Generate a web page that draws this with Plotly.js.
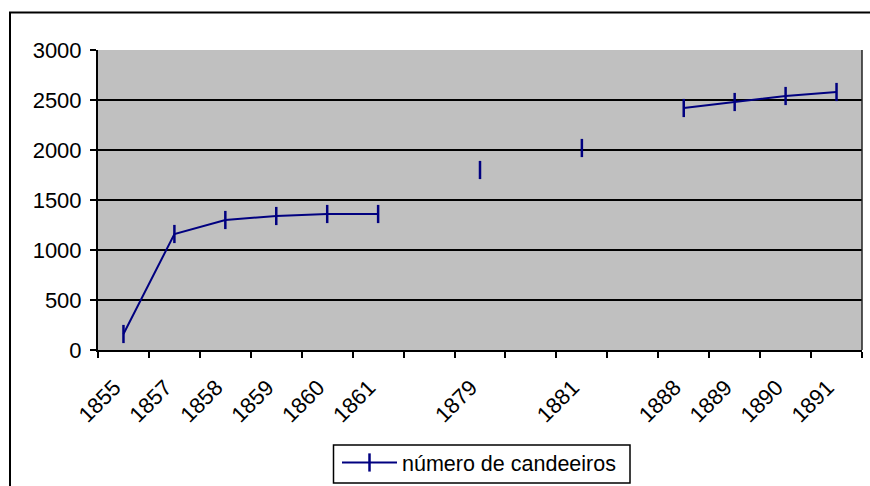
<!DOCTYPE html>
<html>
<head>
<meta charset="utf-8">
<script src="https://cdn.plot.ly/plotly-3.0.1.min.js"></script>
<style>
html,body{margin:0;padding:0;background:#fff;}
#chart{width:870px;height:486px;}
</style>
</head>
<body>
<div id="chart"></div>
<script>
// Categories (blank entries are empty categories in the original sheet)
const categories = ['1855','1857','1858','1859','1860','1861','','1879','','1881','','1888','1889','1890','1891'];
// número de candeeiros (null = no value)
const candeeiros = [160,1160,1300,1340,1360,1360,null,1800,null,2020,null,2420,2480,2540,2580];
const seriesName = 'número de candeeiros';
const yTicks = [0,500,1000,1500,2000,2500,3000];

const idx = categories.map((_, i) => i);
const boundaries = categories.map((_, i) => i - 0.5).concat([categories.length - 0.5]);

const FONT = 'Liberation Sans, Arial, sans-serif';
const NAVY = '#000080';
const FS = 22;

const trace = {
  type: 'scatter',
  mode: 'lines+markers',
  x: idx,
  y: candeeiros,
  name: seriesName,
  connectgaps: false,
  line: {color: NAVY, width: 2},
  marker: {symbol: 'line-ns', size: 13, color: NAVY, line: {color: NAVY, width: 2.5}},
  showlegend: true,
  cliponaxis: false
};

const W = 870, H = 486;
const L = 98, R = 8, T = 50, B = 136;
const pw = W - L - R, ph = H - T - B;
const px = v => (v - L) / pw;
const py = v => (H - B - v) / ph;

const layout = {
  width: W, height: H,
  margin: {l: L, r: R, t: T, b: B, pad: 0, autoexpand: false},
  paper_bgcolor: '#ffffff',
  plot_bgcolor: '#c0c0c0',
  font: {family: FONT, size: FS, color: '#000'},
  showlegend: true,
  xaxis: {
    type: 'linear',
    range: [-0.5, categories.length - 0.5],
    tickmode: 'array',
    tickvals: idx,
    ticktext: categories,
    ticks: '',
    tickangle: -45,
    showgrid: false,
    zeroline: false,
    showline: true,
    linecolor: '#000',
    linewidth: 2,
    automargin: false,
    ticklabelstandoff: 14,
    ticklabelshift: -9,
    tickfont: {family: FONT, size: FS, color: '#000'},
    minor: {tickmode: 'array', tickvals: boundaries, ticks: 'outside', ticklen: 6, tickcolor: '#000', tickwidth: 2, showgrid: false}
  },
  yaxis: {
    range: [0, 3000],
    tickmode: 'array',
    tickvals: yTicks,
    ticktext: yTicks.map(String),
    ticks: 'outside',
    ticklen: 6,
    tickwidth: 2,
    tickcolor: '#000',
    showgrid: true,
    gridcolor: '#000',
    gridwidth: 1.5,
    zeroline: false,
    showline: true,
    linecolor: '#000',
    linewidth: 2,
    automargin: false,
    ticklabelstandoff: 4,
    tickfont: {family: FONT, size: FS, color: '#000'}
  },
  legend: {
    orientation: 'h',
    x: px(337), xanchor: 'left',
    y: py(442), yanchor: 'top',
    bgcolor: 'rgba(0,0,0,0)',
    borderwidth: 0,
    font: {family: FONT, size: 21.5, color: '#000'},
    itemwidth: 55,
    tracegroupgap: 0
  },
  shapes: [
    {type: 'line', xref: 'paper', yref: 'paper', x0: 1, x1: 1, y0: 0, y1: 1,
     line: {color: '#222', width: 1.5}, layer: 'above'},
    {type: 'rect', xref: 'paper', yref: 'paper', x0: px(10), x1: px(885), y0: py(12.5), y1: py(500),
     line: {color: '#000', width: 2}, fillcolor: 'rgba(0,0,0,0)', layer: 'above'},
    // legend box
    {type: 'rect', xref: 'paper', yref: 'paper', x0: px(333.5), x1: px(630), y0: py(483), y1: py(445),
     line: {color: '#000', width: 1.5}, fillcolor: '#ffffff', layer: 'above'}
  ]
};

Plotly.newPlot('chart', [trace], layout, {displayModeBar: false, staticPlot: true});
</script>
</body>
</html>
